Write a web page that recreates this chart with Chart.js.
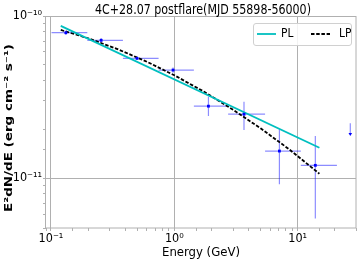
<!DOCTYPE html>
<html>
<head>
<meta charset="utf-8">
<script src="https://cdn.jsdelivr.net/npm/chart.js@4.4.1/dist/chart.umd.min.js"></script>
<style>
  html, body { margin: 0; padding: 0; background: #fff; }
  canvas { display: block; }
</style>
</head>
<body>
<canvas id="sed" width="360" height="263"></canvas>
<script>
// SED 4C+28.07, postflare (MJD 55898-56000).

// ── Flux points (GeV, erg cm^-2 s^-1) ─────────────────────────────
const energy     = [0.132, 0.255, 0.498, 0.976, 1.89, 3.67, 7.11, 13.9];
const energyLow  = [0.101, 0.197, 0.383, 0.745, 1.44, 2.73, 5.44, 10.6];
const energyHigh = [0.197, 0.383, 0.745, 1.44, 2.73, 5.44, 10.6, 20.8];
const flux       = [7.89e-11, 7.08e-11, 5.48e-11, 4.64e-11, 2.78e-11, 2.48e-11, 1.47e-11, 1.20e-11];
const fluxLow    = [7.63e-11, 6.84e-11, 5.35e-11, 4.47e-11, 2.42e-11, 1.98e-11, 9.18e-12, 5.64e-12];
const fluxHigh   = [8.11e-11, 7.31e-11, 5.61e-11, 4.82e-11, 3.18e-11, 2.96e-11, 2.00e-11, 1.82e-11];

// ── Upper limit ─────────────────────────────────────────────────
const ulEnergy = [26.7];
const ulFlux   = [2.18e-11];
const ulTip    = [1.82e-11];

// ── Models ─────────────────────────────────────────────────────
const plEnergy = [0.12, 15];
const plFlux   = [8.69e-11, 1.54e-11];
const lpEnergy = [0.12, 0.2, 0.35, 0.6, 1, 1.7, 3, 5, 8.5, 15];
const lpFlux   = [8.20e-11, 7.29e-11, 6.23e-11, 5.22e-11, 4.31e-11, 3.45e-11, 2.64e-11, 2.03e-11, 1.51e-11, 1.065e-11];

// ── Axes ───────────────────────────────────────────────────────
const xRange = [0.0911, 29.7];
const yRange = [4.93e-12, 1e-10];

const TITLE = "4C+28.07 postflare(MJD 55898-56000)";
const Y_TITLE = "E²dN/dE (erg cm⁻² s⁻¹)";
const X_TITLE = "Energy (GeV)";

const NARROW = '"DejaVu Sans Condensed", "Liberation Sans Narrow", "DejaVu Sans", sans-serif';
const BASE = '"DejaVu Sans", sans-serif';
const SQUEEZE = 0.82;
const GRID = "#b0b0b0";
const CYAN = "#00bfbf";
const POINT = "#0000ff";
const ERR = "rgba(0, 0, 255, 0.45)";

const SUP = { "0": "⁰", "1": "¹", "2": "²", "3": "³", "4": "⁴", "5": "⁵", "6": "⁶", "7": "⁷", "8": "⁸", "9": "⁹", "-": "⁻" };

function isDecade(v) {
  const e = Math.log10(v);
  return Math.abs(e - Math.round(e)) < 1e-6;
}

/** "10⁻¹¹" pour les puissances de dix, rien pour les graduations mineures. */
function powerLabel(v) {
  if (!isDecade(v)) return "";
  return "10" + String(Math.round(Math.log10(v))).split("").map((c) => SUP[c]).join("");
}

const zip = (xs, ys) => xs.map((x, i) => ({ x, y: ys[i] }));

function squeezedText(ctx, text, x, y, sx, sy) {
  ctx.save();
  ctx.translate(x, y);
  ctx.scale(sx, sy || 1);
  ctx.fillText(text, 0, 0);
  ctx.restore();
}

// Barres d'erreur + limite supérieure, sous les courbes.
const errorBars = {
  id: "errorBars",
  beforeDatasetsDraw(chart) {
    const { ctx, scales: { x, y } } = chart;
    ctx.save();
    ctx.strokeStyle = ERR;
    ctx.lineWidth = 1.2;
    energy.forEach((e, i) => {
      const px = x.getPixelForValue(e);
      const py = y.getPixelForValue(flux[i]);
      ctx.beginPath();
      ctx.moveTo(x.getPixelForValue(energyLow[i]), py);
      ctx.lineTo(x.getPixelForValue(energyHigh[i]), py);
      ctx.moveTo(px, y.getPixelForValue(fluxLow[i]));
      ctx.lineTo(px, y.getPixelForValue(fluxHigh[i]));
      ctx.stroke();
    });
    ulEnergy.forEach((e, i) => {
      const px = x.getPixelForValue(e);
      const top = y.getPixelForValue(ulFlux[i]);
      const tip = y.getPixelForValue(ulTip[i]);
      ctx.strokeStyle = ERR;
      ctx.beginPath();
      ctx.moveTo(px, top);
      ctx.lineTo(px, tip - 2);
      ctx.stroke();
      ctx.fillStyle = POINT;
      ctx.beginPath();
      ctx.moveTo(px - 1.8, tip - 3);
      ctx.lineTo(px + 1.8, tip - 3);
      ctx.lineTo(px, tip);
      ctx.closePath();
      ctx.fill();
    });
    ctx.restore();
  },
};

// Cadre, titre, titre Y et légende dans le repère.
const decorations = {
  id: "decorations",
  afterDraw(chart) {
    const { ctx, chartArea: a } = chart;
    ctx.save();
    ctx.strokeStyle = GRID;
    ctx.lineWidth = 1;
    ctx.strokeRect(Math.round(a.left) - 0.5, Math.round(a.top) + 0.5,
      Math.round(a.right - a.left) + 0.5, Math.round(a.bottom - a.top) - 0.5);

    ctx.fillStyle = "#000";
    ctx.textAlign = "left";
    ctx.textBaseline = "alphabetic";
    ctx.font = `13.5px ${BASE}`;
    const w = ctx.measureText(TITLE).width * SQUEEZE;
    squeezedText(ctx, TITLE, (a.left + a.right) / 2 - w / 2 + 2, 14, SQUEEZE);

    ctx.save();
    ctx.translate(9, 128);
    ctx.rotate(-Math.PI / 2);
    ctx.font = `bold 13.5px ${BASE}`;
    ctx.textAlign = "center";
    ctx.textBaseline = "middle";
    squeezedText(ctx, Y_TITLE, 0, 0, 1, SQUEEZE);
    ctx.restore();

    // légende
    const bx = a.right - 103, by = a.top + 7, bw = 98, bh = 22;
    ctx.fillStyle = "rgba(255,255,255,0.85)";
    ctx.strokeStyle = "#d0d0d0";
    ctx.beginPath();
    ctx.roundRect(bx + 0.5, by + 0.5, bw, bh, 2.5);
    ctx.fill();
    ctx.stroke();
    const cy = by + 11;
    const items = chart.data.datasets.filter((d) => d.inLegend);
    items.forEach((d, i) => {
      const hx = bx + 4 + i * 54;
      ctx.strokeStyle = d.borderColor;
      ctx.lineWidth = d.borderWidth;
      ctx.setLineDash(d.borderDash || []);
      ctx.beginPath();
      ctx.moveTo(hx, cy);
      ctx.lineTo(hx + 19, cy);
      ctx.stroke();
      ctx.setLineDash([]);
      ctx.fillStyle = "#000";
      ctx.font = `13px ${BASE}`;
      ctx.textBaseline = "middle";
      ctx.textAlign = "left";
      squeezedText(ctx, d.label, hx + 24 + (i ? 4 : 0), cy, SQUEEZE);
    });
    ctx.restore();
  },
};

const axisGrid = {
  color: (c) => (c.tick && isDecade(c.tick.value) ? GRID : "rgba(0,0,0,0)"),
  tickColor: GRID,
  tickLength: 3,
  lineWidth: 1,
};

new Chart(document.getElementById("sed"), {
  type: "scatter",
  data: {
    datasets: [
      {
        label: "data",
        data: zip(energy, flux),
        pointStyle: "rect",
        pointRadius: 2,
        pointBackgroundColor: POINT,
        pointBorderWidth: 0,
        showLine: false,
      },
      {
        label: "PL",
        inLegend: true,
        data: zip(plEnergy, plFlux),
        showLine: true,
        borderColor: CYAN,
        borderWidth: 1.8,
        pointRadius: 0,
      },
      {
        label: "LP",
        inLegend: true,
        data: zip(lpEnergy, lpFlux),
        showLine: true,
        borderColor: "#000",
        borderWidth: 1.8,
        borderDash: [3.5, 1.7],
        pointRadius: 0,
      },
    ],
  },
  options: {
    responsive: false,
    devicePixelRatio: 1,
    animation: false,
    layout: { padding: { top: 16, right: 4, left: 0, bottom: 0 } },
    plugins: { legend: { display: false }, tooltip: { enabled: false }, title: { display: false } },
    scales: {
      x: {
        type: "logarithmic",
        min: xRange[0],
        max: xRange[1],
        grid: axisGrid,
        border: { display: false },
        afterFit: (s) => { s.height = 35; },
        ticks: {
          autoSkip: false,
          maxRotation: 0,
          padding: 0,
          color: "#000",
          font: { family: NARROW, size: 12.5 },
          callback: powerLabel,
        },
        title: {
          display: true,
          text: X_TITLE,
          color: "#000",
          font: { family: NARROW, size: 13 },
          padding: { top: 0, bottom: 3 },
        },
      },
      y: {
        type: "logarithmic",
        min: yRange[0],
        max: yRange[1],
        grid: axisGrid,
        border: { display: false },
        afterFit: (s) => { s.width = 46; },
        ticks: {
          autoSkip: false,
          padding: 1,
          color: "#000",
          font: { family: NARROW, size: 12.5 },
          callback: powerLabel,
        },
      },
    },
  },
  plugins: [errorBars, decorations],
});
</script>
</body>
</html>
